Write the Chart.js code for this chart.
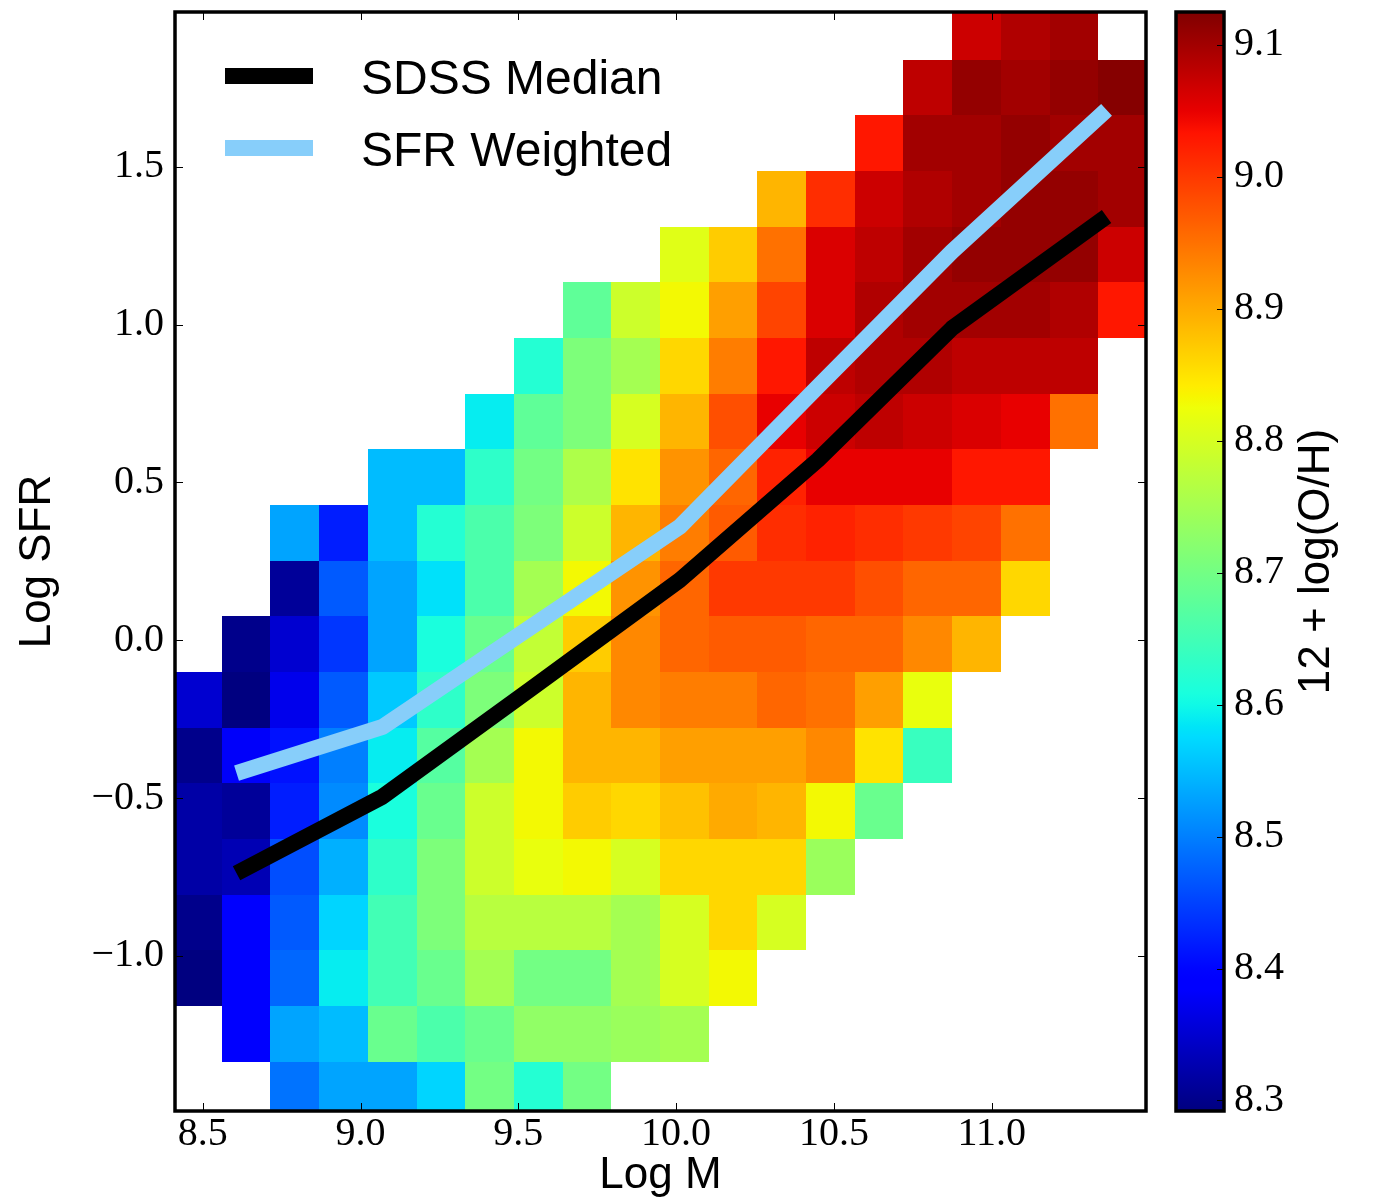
<!DOCTYPE html>
<html>
<head>
<meta charset="utf-8">
<script src="https://cdn.jsdelivr.net/npm/chart.js@4.4.1/dist/chart.umd.min.js"></script>
<style>
  html, body { margin: 0; padding: 0; background: #fff; }
  #wrap { position: relative; width: 1373px; height: 1203px; }
  #main { position: absolute; left: 0; top: 0; }
  #cbar { position: absolute; left: 1160px; top: 0; }
</style>
</head>
<body>
<div id="wrap">
  <canvas id="main" width="1160" height="1203"></canvas>
  <canvas id="cbar" width="213" height="1203"></canvas>
</div>
<script>
// 2D histogram bins (Log M across, Log SFR up)
const massStart = 8.406, massStep = 0.1543;
const sfrStart = -1.511, sfrStep = 0.1763;

// median 12 + log(O/H) per bin, top row (highest SFR) first, 20 mass bins per row
const n = null;
const metalGrid = [
  [n, n, n, n, n, n, n, n, n, n, n, n, n, n, n, n, 9.07, 9.09, 9.10, n],
  [n, n, n, n, n, n, n, n, n, n, n, n, n, n, n, 9.08, 9.11, 9.10, 9.11, 9.12],
  [n, n, n, n, n, n, n, n, n, n, n, n, n, n, 9.03, 9.10, 9.10, 9.11, 9.10, 9.10],
  [n, n, n, n, n, n, n, n, n, n, n, n, 8.89, 9.01, 9.07, 9.09, 9.10, 9.11, 9.11, 9.10],
  [n, n, n, n, n, n, n, n, n, n, 8.81, 8.87, 8.95, 9.06, 9.08, 9.10, 9.11, 9.11, 9.11, 9.07],
  [n, n, n, n, n, n, n, n, 8.68, 8.79, 8.83, 8.91, 8.99, 9.06, 9.09, 9.10, 9.10, 9.10, 9.09, 9.03],
  [n, n, n, n, n, n, n, 8.62, 8.71, 8.75, 8.86, 8.94, 9.03, 9.08, 9.09, 9.09, 9.08, 9.08, 9.08, n],
  [n, n, n, n, n, n, 8.59, 8.68, 8.71, 8.80, 8.89, 8.98, 9.05, 9.07, 9.08, 9.07, 9.06, 9.05, 8.95, n],
  [n, n, n, n, 8.55, 8.55, 8.63, 8.70, 8.76, 8.85, 8.92, 8.96, 9.02, 9.05, 9.05, 9.05, 9.03, 9.03, n, n],
  [n, n, 8.53, 8.42, 8.55, 8.62, 8.66, 8.71, 8.79, 8.89, 8.94, 8.97, 9.01, 9.02, 9.01, 9.00, 8.99, 8.95, n, n],
  [n, n, 8.31, 8.47, 8.53, 8.58, 8.66, 8.75, 8.83, 8.92, 8.96, 9.00, 9.00, 9.00, 8.98, 8.96, 8.96, 8.86, n, n],
  [n, 8.30, 8.35, 8.44, 8.53, 8.61, 8.69, 8.78, 8.87, 8.93, 8.96, 8.97, 8.97, 8.96, 8.96, 8.93, 8.89, n, n, n],
  [8.35, 8.28, 8.37, 8.47, 8.56, 8.63, 8.71, 8.79, 8.89, 8.93, 8.94, 8.94, 8.96, 8.95, 8.91, 8.82, n, n, n, n],
  [8.30, 8.38, 8.41, 8.50, 8.59, 8.67, 8.75, 8.83, 8.89, 8.89, 8.91, 8.91, 8.91, 8.93, 8.85, 8.64, n, n, n, n],
  [8.32, 8.31, 8.42, 8.51, 8.61, 8.69, 8.79, 8.83, 8.87, 8.86, 8.88, 8.90, 8.89, 8.83, 8.69, n, n, n, n, n],
  [8.32, 8.33, 8.46, 8.54, 8.63, 8.71, 8.79, 8.82, 8.83, 8.80, 8.86, 8.86, 8.86, 8.74, n, n, n, n, n, n],
  [8.30, 8.39, 8.47, 8.57, 8.65, 8.71, 8.77, 8.77, 8.77, 8.75, 8.80, 8.86, 8.80, n, n, n, n, n, n, n],
  [8.29, 8.39, 8.48, 8.59, 8.65, 8.69, 8.75, 8.70, 8.70, 8.75, 8.80, 8.83, n, n, n, n, n, n, n, n],
  [n, 8.39, 8.53, 8.55, 8.69, 8.66, 8.69, 8.73, 8.73, 8.74, 8.75, n, n, n, n, n, n, n, n, n],
  [n, n, 8.49, 8.53, 8.53, 8.57, 8.70, 8.62, 8.70, n, n, n, n, n, n, n, n, n, n, n]
];

// median lines
const lineMass = [8.607, 9.070, 9.540, 10.012, 10.449, 10.874, 11.364];
const sdssMedian = [-0.738, -0.495, -0.154, 0.191, 0.571, 0.988, 1.342];
const sfrWeighted = [-0.421, -0.274, 0.042, 0.360, 0.803, 1.231, 1.680];

// axes
const massTicks = [8.5, 9.0, 9.5, 10.0, 10.5, 11.0];
const sfrTicks = [-1.0, -0.5, 0.0, 0.5, 1.0, 1.5];
const metalTicks = [8.3, 8.4, 8.5, 8.6, 8.7, 8.8, 8.9, 9.0, 9.1];
const cbMin = 8.292, cbMax = 9.125;

// matplotlib "jet"
const jetR = [[0, 0], [0.35, 0], [0.66, 1], [0.89, 1], [1, 0.5]];
const jetG = [[0, 0], [0.125, 0], [0.375, 1], [0.64, 1], [0.91, 0], [1, 0]];
const jetB = [[0, 0.5], [0.11, 1], [0.34, 1], [0.65, 0], [1, 0]];

function interp(pts, t) {
    for (let i = 1; i < pts.length; i++) {
        if (t <= pts[i][0]) {
            const [x0, y0] = pts[i - 1], [x1, y1] = pts[i];
            return y0 + (y1 - y0) * (t - x0) / (x1 - x0);
        }
    }
    return pts[pts.length - 1][1];
}

function jetColor(t) {
    t = Math.min(1, Math.max(0, t));
    const r = Math.round(255 * interp(jetR, t));
    const g = Math.round(255 * interp(jetG, t));
    const b = Math.round(255 * interp(jetB, t));
    return `rgb(${r},${g},${b})`;
}

function metalColor(v) {
    return jetColor((v - cbMin) / (cbMax - cbMin));
}

function fmt(v) {
    return v < 0 ? "\u2212" + Math.abs(v).toFixed(1) : v.toFixed(1);
}

// keep chart area where we want it (no extra room for half tick labels)
function noEdgePadding(s) {
    s.paddingTop = 0;
    s.paddingBottom = 0;
    s.paddingLeft = 0;
    s.paddingRight = 0;
}

const tickFont = { family: "Liberation Serif", size: 40, lineHeight: 1 };
const labelFont = { family: "Liberation Sans", size: 44, lineHeight: 1 };

function inwardTicks(ctx, scale, values, side, area, len) {
    values.forEach(v => {
        const p = Math.round(scale.getPixelForValue(v)) + 0.5;
        ctx.beginPath();
        if (side === "bottom") { ctx.moveTo(p, area.bottom); ctx.lineTo(p, area.bottom - len); }
        if (side === "top") { ctx.moveTo(p, area.top); ctx.lineTo(p, area.top + len); }
        if (side === "left") { ctx.moveTo(area.left, p); ctx.lineTo(area.left + len, p); }
        if (side === "right") { ctx.moveTo(area.right, p); ctx.lineTo(area.right - len, p); }
        ctx.stroke();
    });
}

const heatmapPlugin = {
    id: "heatmap",
    beforeDatasetsDraw(chart) {
        const { ctx, chartArea: a, scales: { x, y } } = chart;
        ctx.save();
        ctx.beginPath();
        ctx.rect(a.left, a.top, a.right - a.left, a.bottom - a.top);
        ctx.clip();
        const rows = metalGrid.length;
        metalGrid.forEach((row, r) => {
            const lo = sfrStart + (rows - 1 - r) * sfrStep;
            const y0 = Math.round(y.getPixelForValue(lo + sfrStep));
            const y1 = Math.round(y.getPixelForValue(lo));
            row.forEach((v, c) => {
                if (v === null) return;
                const x0 = Math.round(x.getPixelForValue(massStart + c * massStep));
                const x1 = Math.round(x.getPixelForValue(massStart + (c + 1) * massStep));
                ctx.fillStyle = metalColor(v);
                ctx.fillRect(x0, y0, x1 - x0, y1 - y0);
            });
        });
        ctx.restore();
    },
    afterDraw(chart) {
        const { ctx, chartArea: a, scales: { x, y } } = chart;
        ctx.save();
        // legend
        chart.data.datasets.forEach((ds, i) => {
            const cy = a.top + 64 + i * 72;
            ctx.strokeStyle = ds.borderColor;
            ctx.lineWidth = ds.borderWidth;
            ctx.lineCap = "butt";
            ctx.beginPath();
            ctx.moveTo(a.left + 50, cy);
            ctx.lineTo(a.left + 138, cy);
            ctx.stroke();
            ctx.fillStyle = "#000";
            ctx.font = '48px "Liberation Sans"';
            ctx.textBaseline = "alphabetic";
            ctx.textAlign = "left";
            ctx.fillText(ds.label, a.left + 186, cy + 18);
        });
        // ticks
        ctx.strokeStyle = "#000";
        ctx.lineWidth = 1;
        inwardTicks(ctx, x, massTicks, "bottom", a, 8);
        inwardTicks(ctx, x, massTicks, "top", a, 8);
        inwardTicks(ctx, y, sfrTicks, "left", a, 8);
        inwardTicks(ctx, y, sfrTicks, "right", a, 8);
        // frame
        ctx.lineWidth = 3.5;
        ctx.strokeRect(a.left, a.top, a.right - a.left, a.bottom - a.top);
        ctx.restore();
    }
};

new Chart(document.getElementById("main"), {
    type: "line",
    data: {
        datasets: [
            {
                label: "SDSS Median",
                data: lineMass.map((m, i) => ({ x: m, y: sdssMedian[i] })),
                borderColor: "#000000",
                borderWidth: 16,
                borderJoinStyle: "round",
                pointRadius: 0,
                tension: 0
            },
            {
                label: "SFR Weighted",
                data: lineMass.map((m, i) => ({ x: m, y: sfrWeighted[i] })),
                borderColor: "#87cefa",
                borderWidth: 16,
                borderJoinStyle: "round",
                pointRadius: 0,
                tension: 0
            }
        ]
    },
    options: {
        responsive: false,
        animation: false,
        devicePixelRatio: 1,
        layout: { padding: { top: 12, right: 14, left: 0, bottom: 0 } },
        plugins: { legend: { display: false }, tooltip: { enabled: false } },
        scales: {
            x: {
                type: "linear",
                min: 8.412,
                max: 11.489,
                afterBuildTicks(s) { s.ticks = massTicks.map(v => ({ value: v })); },
                afterFit(s) { s.height = 92; noEdgePadding(s); },
                grid: { display: false, drawTicks: false },
                border: { display: false },
                ticks: { autoSkip: false, maxRotation: 0, padding: 3, color: "#000", font: tickFont, callback: v => v.toFixed(1) },
                title: { display: true, text: "Log M", color: "#000", font: labelFont, padding: { top: 0, bottom: 5 } }
            },
            y: {
                type: "linear",
                min: -1.491,
                max: 1.990,
                afterBuildTicks(s) { s.ticks = sfrTicks.map(v => ({ value: v })); },
                afterFit(s) { s.width = 175; noEdgePadding(s); },
                grid: { display: false, drawTicks: false },
                border: { display: false },
                ticks: { autoSkip: false, padding: 11, color: "#000", font: tickFont, callback: v => fmt(v) },
                title: { display: true, text: "Log SFR", color: "#000", font: labelFont, padding: { top: 16, bottom: 0 } }
            }
        }
    },
    plugins: [heatmapPlugin]
});

const colorbarPlugin = {
    id: "colorbar",
    beforeDraw(chart) {
        const { ctx, chartArea: a, scales: { y } } = chart;
        const g = ctx.createLinearGradient(0, y.getPixelForValue(cbMin), 0, y.getPixelForValue(cbMax));
        for (let i = 0; i <= 100; i++) {
            g.addColorStop(i / 100, jetColor(i / 100));
        }
        ctx.save();
        ctx.fillStyle = g;
        ctx.fillRect(a.left, a.top, a.right - a.left, a.bottom - a.top);
        ctx.restore();
    },
    afterDraw(chart) {
        const { ctx, chartArea: a, scales: { y } } = chart;
        ctx.save();
        ctx.strokeStyle = "#000";
        ctx.lineWidth = 1;
        inwardTicks(ctx, y, metalTicks, "right", a, 7);
        ctx.lineWidth = 3.5;
        ctx.strokeRect(a.left, a.top, a.right - a.left, a.bottom - a.top);
        // colour bar label, reading upwards
        ctx.translate(a.right + 93, (a.top + a.bottom) / 2);
        ctx.rotate(-Math.PI / 2);
        ctx.fillStyle = "#000";
        ctx.font = '44px "Liberation Sans"';
        ctx.textAlign = "center";
        ctx.textBaseline = "middle";
        ctx.fillText("12 + log(O/H)", 0, 0);
        ctx.restore();
    }
};

new Chart(document.getElementById("cbar"), {
    type: "scatter",
    data: { datasets: [] },
    options: {
        responsive: false,
        animation: false,
        devicePixelRatio: 1,
        layout: { padding: { left: 16, top: 12, bottom: 92, right: 0 } },
        plugins: { legend: { display: false }, tooltip: { enabled: false } },
        scales: {
            x: { display: false },
            y: {
                position: "right",
                min: cbMin,
                max: cbMax,
                afterBuildTicks(s) { s.ticks = metalTicks.map(v => ({ value: v })); },
                afterFit(s) { s.width = 149; noEdgePadding(s); },
                grid: { display: false, drawTicks: false },
                border: { display: false },
                ticks: { autoSkip: false, padding: 10, color: "#000", font: tickFont, callback: v => v.toFixed(1) }
            }
        }
    },
    plugins: [colorbarPlugin]
});
</script>
</body>
</html>
